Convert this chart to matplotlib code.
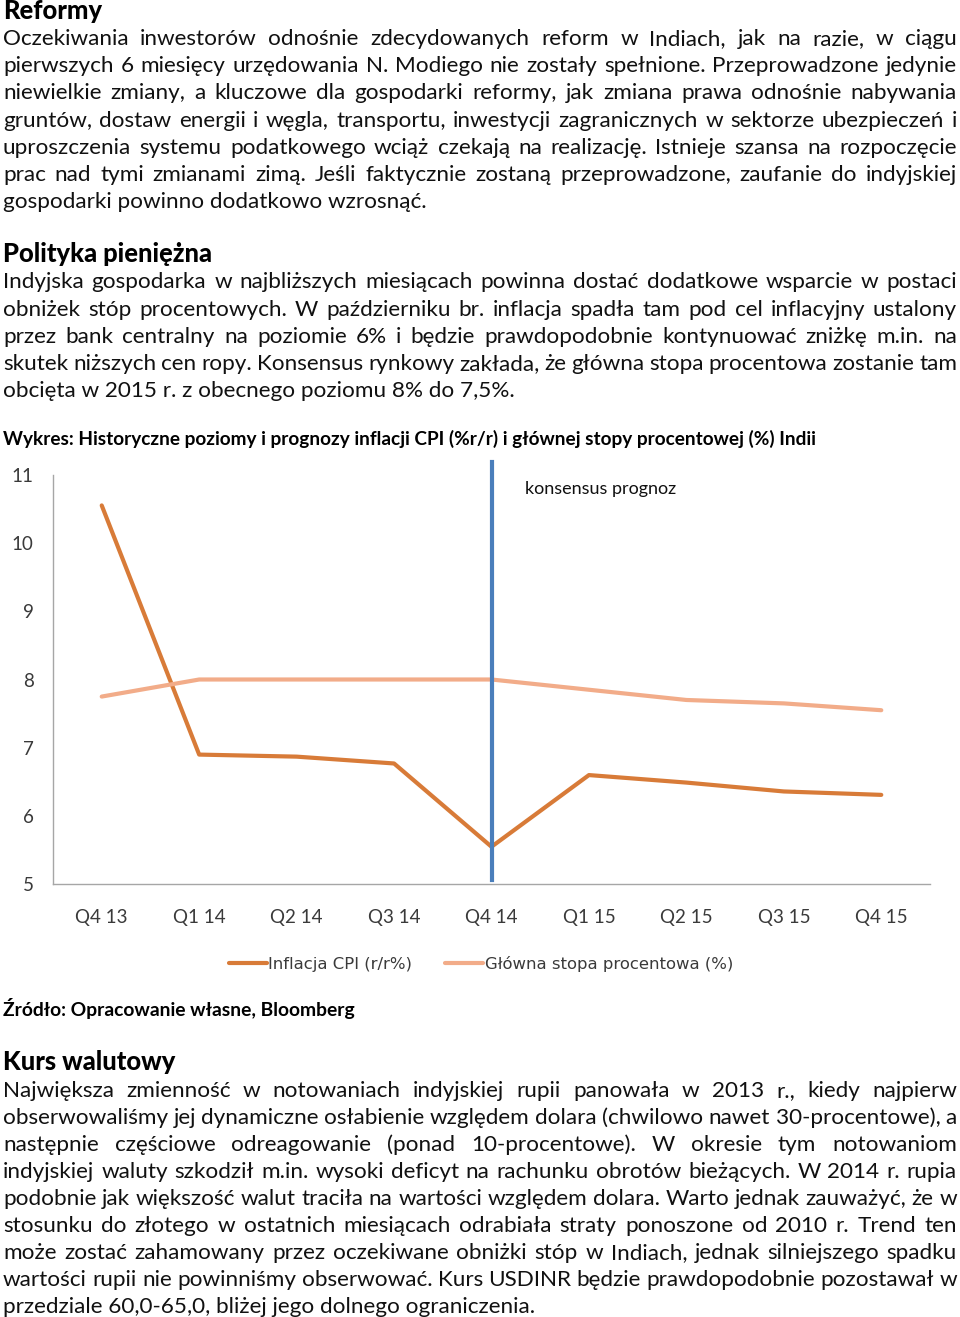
import numpy as np
import matplotlib
matplotlib.use('Agg')
from matplotlib import pyplot as plt

# ---- chart data ----
quarters = ['Q4 13', 'Q1 14', 'Q2 14', 'Q3 14', 'Q4 14', 'Q1 15', 'Q2 15', 'Q3 15', 'Q4 15']
cpi = [10.55, 6.9, 6.87, 6.77, 5.55, 6.6, 6.49, 6.36, 6.31]
rate = [7.75, 8.0, 8.0, 8.0, 8.0, 7.85, 7.7, 7.65, 7.55]
forecast_from = 'Q4 14'

cpi_label = 'Inflacja CPI (r/r%)'
rate_label = 'Główna stopa procentowa (%)'
forecast_text = 'konsensus prognoz'
chart_title = 'Wykres: Historyczne poziomy i prognozy inflacji CPI (%r/r) i głównej stopy procentowej (%) Indii'
source_text = 'Źródło: Opracowanie własne, Bloomberg'

# ---- page text ----
head1 = 'Reformy'
para1 = [
    'Oczekiwania inwestorów odnośnie zdecydowanych reform w Indiach, jak na razie, w ciągu',
    'pierwszych 6 miesięcy urzędowania N. Modiego nie zostały spełnione. Przeprowadzone jedynie',
    'niewielkie zmiany, a kluczowe dla gospodarki reformy, jak zmiana prawa odnośnie nabywania',
    'gruntów, dostaw energii i węgla, transportu, inwestycji zagranicznych w sektorze ubezpieczeń i',
    'uproszczenia systemu podatkowego wciąż czekają na realizację. Istnieje szansa na rozpoczęcie',
    'prac nad tymi zmianami zimą. Jeśli faktycznie zostaną przeprowadzone, zaufanie do indyjskiej',
    'gospodarki powinno dodatkowo wzrosnąć.',
]
head2 = 'Polityka pieniężna'
para2 = [
    'Indyjska gospodarka w najbliższych miesiącach powinna dostać dodatkowe wsparcie w postaci',
    'obniżek stóp procentowych. W październiku br. inflacja spadła tam pod cel inflacyjny ustalony',
    'przez bank centralny na poziomie 6% i będzie prawdopodobnie kontynuować zniżkę m.in. na',
    'skutek niższych cen ropy. Konsensus rynkowy zakłada, że główna stopa procentowa zostanie tam',
    'obcięta w 2015 r. z obecnego poziomu 8% do 7,5%.',
]
head3 = 'Kurs walutowy'
para3 = [
    'Największa zmienność w notowaniach indyjskiej rupii panowała w 2013 r., kiedy najpierw',
    'obserwowaliśmy jej dynamiczne osłabienie względem dolara (chwilowo nawet 30-procentowe), a',
    'następnie częściowe odreagowanie (ponad 10-procentowe). W okresie tym notowaniom',
    'indyjskiej waluty szkodził m.in. wysoki deficyt na rachunku obrotów bieżących. W 2014 r. rupia',
    'podobnie jak większość walut traciła na wartości względem dolara. Warto jednak zauważyć, że w',
    'stosunku do złotego w ostatnich miesiącach odrabiała straty ponoszone od 2010 r. Trend ten',
    'może zostać zahamowany przez oczekiwane obniżki stóp w Indiach, jednak silniejszego spadku',
    'wartości rupii nie powinniśmy obserwować. Kurs USDINR będzie prawdopodobnie pozostawał w',
    'przedziale 60,0-65,0, bliżej jego dolnego ograniczenia.',
]

W, H = 960, 1317
BODY = ['Lato', 'DejaVu Sans']
NARROW = ['Liberation Sans Narrow', 'DejaVu Sans']

fig = plt.figure(figsize=(W / 100, H / 100), dpi=100)
renderer = fig.canvas.get_renderer()


def text_width(s, **kw):
    t = fig.text(0, 0, s, **kw)
    w = t.get_window_extent(renderer).width
    t.remove()
    return w


def fit_size(s, target, base=12, **kw):
    return base * target / text_width(s, fontsize=base, **kw)


def put(x, y, s, **kw):
    return fig.text(x / W, 1 - y / H, s, va='baseline', **kw)


def justify(lines, y0, step, fs, left=3, right=957):
    for i, line in enumerate(lines):
        y = y0 + i * step
        words = line.split()
        if i == len(lines) - 1 or len(words) < 2:
            put(left, y, line, fontsize=fs, family=BODY, color='#111111')
            continue
        widths = [text_width(wd, fontsize=fs, family=BODY) for wd in words]
        gap = (right - left - sum(widths)) / (len(words) - 1)
        x = left
        for wd, w in zip(words, widths):
            put(x, y, wd, fontsize=fs, family=BODY, color='#111111')
            x += w + gap


body_fs = fit_size(para1[-1], 420, family=BODY)
head_fs = fit_size(head2, 210, family=BODY, fontweight='black')

put(3, 19, head1, fontsize=head_fs, family=BODY, fontweight='black')
justify(para1, 45, 27.17, body_fs)
put(3, 262, head2, fontsize=head_fs, family=BODY, fontweight='black')
justify(para2, 288.5, 27.2, body_fs)

title_fs = fit_size(chart_title, 811, family=BODY, fontweight='bold')
put(3, 445, chart_title, fontsize=title_fs, family=BODY, fontweight='bold')

# ---- chart ----
ax = fig.add_axes([53 / W, 1 - 884.3 / H, 877 / W, (884.3 - 474.7) / H])
x = np.arange(len(quarters))
ax.plot(x, cpi, color='#D87B38', lw=3, solid_joinstyle='round', solid_capstyle='round', label=cpi_label)
ax.plot(x, rate, color='#F2AC89', lw=3, solid_joinstyle='round', solid_capstyle='round', label=rate_label)
xf = quarters.index(forecast_from)
ax.plot([xf, xf], [5.06, 11.18], color='#4A7EBB', lw=3, clip_on=False)
ax.text(xf + 0.34, 10.79, forecast_text, fontsize=13, family=BODY, va='center', color='#111111')

ax.set_xlim(-0.5, len(quarters) - 0.5)
ax.set_ylim(5, 11)
ax.set_xticks(x)
ax.set_xticklabels(quarters)
ax.set_yticks(range(5, 12))
for sp in ['top', 'right']:
    ax.spines[sp].set_visible(False)
for sp in ['left', 'bottom']:
    ax.spines[sp].set_color('#A6A6A6')
    ax.spines[sp].set_linewidth(1)
ax.tick_params(axis='both', length=0, labelsize=13.5, labelcolor='#3A3A3A')
ax.tick_params(axis='x', pad=18)
ax.tick_params(axis='y', pad=14)
for lab in ax.get_xticklabels() + ax.get_yticklabels():
    lab.set_family(BODY)

leg_fs = fit_size(rate_label, 247, family=NARROW)
ax.legend(loc='center', bbox_to_anchor=(481 / W, 1 - 964 / H), bbox_transform=fig.transFigure,
          ncol=2, frameon=False, prop={'family': NARROW, 'size': leg_fs},
          handlelength=2.3, handletextpad=0.1, columnspacing=2.0, labelcolor='#3A3A3A')

src_fs = fit_size(source_text, 350, family=BODY, fontweight='bold')
put(3, 1016, source_text, fontsize=src_fs, family=BODY, fontweight='bold')

put(3, 1070, head3, fontsize=head_fs, family=BODY, fontweight='black')
justify(para3, 1097, 27.0, body_fs)

fig.savefig('out.png', dpi=100)
